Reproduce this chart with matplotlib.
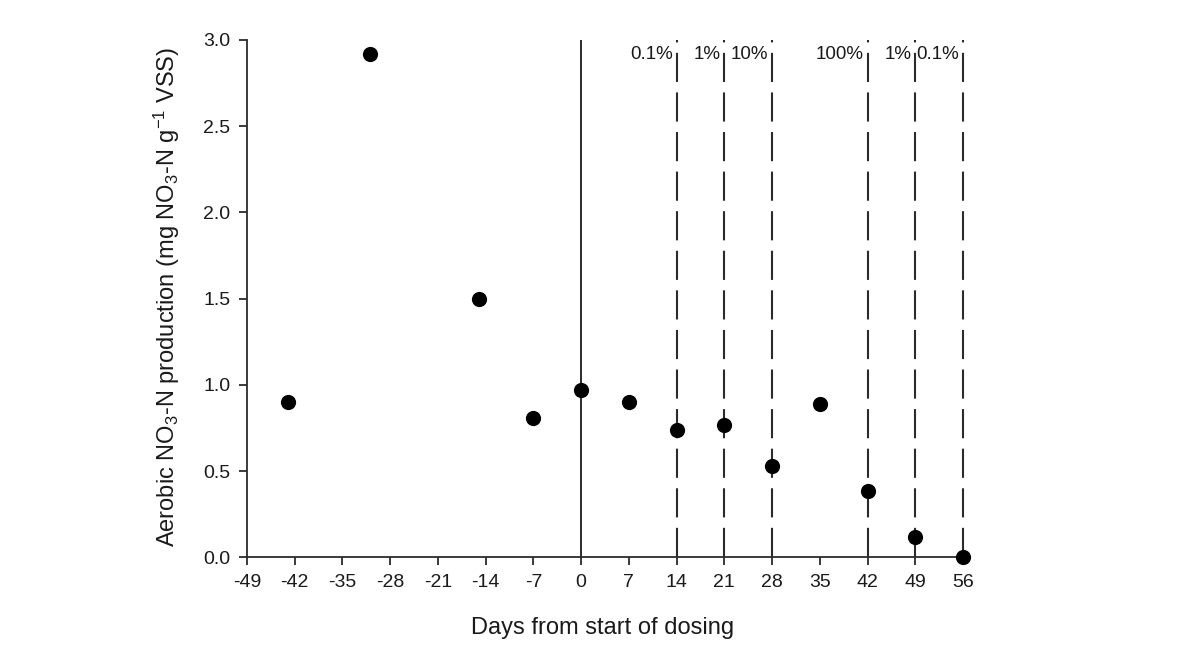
import matplotlib
matplotlib.use("Agg")
import matplotlib.pyplot as plt

plt.rcParams['font.family'] = ['Liberation Sans', 'DejaVu Sans']
plt.rcParams['mathtext.fontset'] = 'custom'
plt.rcParams['mathtext.rm'] = 'Liberation Sans'
plt.rcParams['mathtext.it'] = 'Liberation Sans:italic'
plt.rcParams['mathtext.bf'] = 'Liberation Sans:bold'

# Measured aerobic nitrate production per sampling day
days = [-43, -31, -15, -7, 0, 7, 14, 21, 28, 35, 42, 49, 56]
production = [0.90, 2.92, 1.50, 0.81, 0.97, 0.90, 0.74, 0.765, 0.53, 0.89, 0.385, 0.12, 0.0]

# Dosing changes: day and the new dose level
dose_days = [14, 21, 28, 42, 49, 56]
dose_labels = ['0.1%', '1%', '10%', '100%', '1%', '0.1%']

x_ticks = list(range(-49, 57, 7))
y_ticks = [0.0, 0.5, 1.0, 1.5, 2.0, 2.5, 3.0]

ink = '#2b2b2b'
text_col = '#1a1a1a'

fig = plt.figure(figsize=(12.04, 6.64), dpi=100)
ax = fig.add_axes([247 / 1204, 1 - 557.3 / 664, (963 - 247) / 1204, (557.3 - 40) / 664])

ax.set_xlim(-49, 56)
ax.set_ylim(0, 3.0)

# start of dosing
ax.plot([0, 0], [0, 3.0], color=ink, lw=1.4, solid_capstyle='butt', zorder=2)

# dose changes
for d, lab in zip(dose_days, dose_labels):
    ax.plot([d, d], [0, 3.0], color=ink, lw=1.5, dashes=(14, 5), zorder=2, clip_on=False)
    ax.text(d - 0.55, 2.887, lab, ha='right', va='baseline', fontsize=13.5, color=text_col)

ax.scatter(days, production, s=120, color='black', zorder=4, clip_on=False, linewidths=0)

ax.set_xticks(x_ticks)
ax.set_xticklabels([str(t) for t in x_ticks])
ax.set_yticks(y_ticks)
ax.set_yticklabels([f'{t:.1f}' for t in y_ticks])

for s in ['top', 'right']:
    ax.spines[s].set_visible(False)
for s in ['left', 'bottom']:
    ax.spines[s].set_color(ink)
    ax.spines[s].set_linewidth(1.3)

ax.tick_params(axis='both', direction='out', length=6, width=1.3, color=ink,
               labelsize=14, labelcolor=text_col)
ax.tick_params(axis='x', pad=6)
ax.tick_params(axis='y', pad=6)

ax.set_xlabel('Days from start of dosing', fontsize=17, color=text_col)
ax.set_ylabel(r'Aerobic NO$_3$-N production (mg NO$_3$-N g$^{-1}$ VSS)',
              fontsize=17, color=text_col)
ax.xaxis.set_label_coords(0.496, -0.116)
ax.yaxis.set_label_coords(-0.091, 0.504)

fig.savefig('out.png', dpi=100, facecolor='white')
